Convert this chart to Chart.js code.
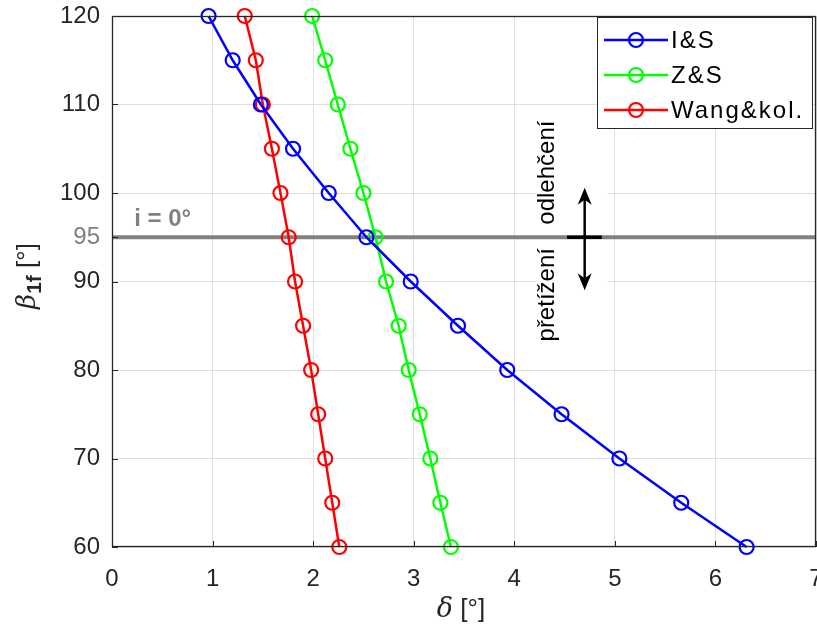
<!DOCTYPE html>
<html><head><meta charset="utf-8">
<script src="https://cdn.jsdelivr.net/npm/chart.js@4/dist/chart.umd.min.js"></script>
<style>html,body{margin:0;padding:0;background:#fff}#wrap{width:817px;height:635px}</style>
</head><body><div id="wrap"><canvas id="c" width="817" height="635"></canvas></div>
<script>
// ---- data ----
const betaValues = [120, 115, 110, 105, 100, 95, 90, 85, 80, 75, 70, 65, 60];
const deltaIS   = [0.96, 1.20, 1.48, 1.80, 2.155, 2.53, 2.97, 3.44, 3.93, 4.47, 5.045, 5.66, 6.31];
const deltaZS   = [1.99, 2.12, 2.245, 2.37, 2.50, 2.62, 2.725, 2.85, 2.95, 3.06, 3.165, 3.265, 3.37];
const deltaWang = [1.32, 1.43, 1.50, 1.59, 1.675, 1.757, 1.82, 1.90, 1.98, 2.05, 2.12, 2.19, 2.26];
const seriesNames = ['I&S', 'Z&S', 'Wang&kol.'];
const xTicks = [0, 1, 2, 3, 4, 5, 6, 7];
const yTicks = [60, 70, 80, 90, 95, 100, 110, 120];
const refBeta = 95;
const refLabel = 'i = 0°';
const upLabel = 'odlehčení';
const downLabel = 'přetížení';

// ---- styling / layout ----
const colors = ['#0000ff', '#00ff00', '#ff0000'];
const axisColor = '#262626';
const refColor = '#808080';
const FONT = '"Liberation Sans", Arial, sans-serif';

function pts(xs) { return xs.map((v, i) => ({x: v, y: betaValues[i]})); }
const seriesData = [deltaIS, deltaZS, deltaWang];

const datasets = seriesData.map((d, i) => ({
  label: seriesNames[i],
  data: pts(d),
  showLine: true,
  borderColor: colors[i],
  backgroundColor: 'rgba(0,0,0,0)',
  borderWidth: 2.5,
  pointRadius: 7,
  pointBorderWidth: 2.2,
  pointBorderColor: colors[i],
  pointBackgroundColor: 'rgba(0,0,0,0)',
  tension: 0,
  clip: false
}));

function line(ctx, x1, y1, x2, y2) { ctx.beginPath(); ctx.moveTo(x1, y1); ctx.lineTo(x2, y2); ctx.stroke(); }

const overlay = {
  id: 'overlay',
  beforeDatasetsDraw(chart) {
    const {ctx, chartArea: a, scales: {x, y}} = chart;
    ctx.save();
    const bx1 = x.getPixelForValue(4.22), bx2 = x.getPixelForValue(4.93);
    ctx.fillStyle = '#fff';
    ctx.fillRect(bx1, y.getPixelForValue(102.3) - 56, bx2 - bx1, 112);
    ctx.fillRect(bx1, y.getPixelForValue(88.5) - 48, bx2 - bx1, 96);
    const py = y.getPixelForValue(refBeta);
    ctx.strokeStyle = refColor; ctx.lineWidth = 4;
    line(ctx, a.left, py, a.right, py);
    ctx.restore();
  },
  afterDatasetsDraw(chart) {
    const {ctx, chartArea: a, scales: {x, y}} = chart;
    ctx.save();
    ctx.strokeStyle = axisColor; ctx.lineWidth = 1.3;
    ctx.strokeRect(a.left + 0.5, a.top + 0.5, a.right - a.left - 1, a.bottom - a.top - 1);
    ctx.lineWidth = 1;
    xTicks.forEach(v => { const px = Math.round(x.getPixelForValue(v)) + 0.5; line(ctx, px, a.bottom, px, a.bottom - 6); });
    yTicks.forEach(v => { const py = Math.round(y.getPixelForValue(v)) + 0.5; line(ctx, a.left, py, a.left + 6, py); });

    ctx.fillStyle = refColor;
    ctx.font = 'bold 24px ' + FONT;
    ctx.textAlign = 'left'; ctx.textBaseline = 'middle';
    ctx.fillText(refLabel, x.getPixelForValue(0.22), y.getPixelForValue(97.05));

    ctx.fillStyle = '#000';
    ctx.font = '24px ' + FONT;
    [[upLabel, 102.3], [downLabel, 88.5]].forEach(([t, yv]) => {
      ctx.save();
      ctx.translate(x.getPixelForValue(4.33), y.getPixelForValue(yv));
      ctx.rotate(-Math.PI / 2);
      ctx.textAlign = 'center'; ctx.textBaseline = 'middle';
      ctx.fillText(t, 0, 0);
      ctx.restore();
    });

    const ax = x.getPixelForValue(4.70);
    const ay1 = y.getPixelForValue(100.6), ay2 = y.getPixelForValue(89.0);
    const py = y.getPixelForValue(refBeta);
    ctx.strokeStyle = '#000'; ctx.lineWidth = 3.5;
    line(ctx, x.getPixelForValue(4.525), py, x.getPixelForValue(4.87), py);
    ctx.lineWidth = 2.5;
    line(ctx, ax, ay1 + 6, ax, ay2 - 6);
    ctx.fillStyle = '#000';
    ctx.beginPath(); ctx.moveTo(ax, ay1); ctx.lineTo(ax - 7, ay1 + 17); ctx.lineTo(ax, ay1 + 12); ctx.lineTo(ax + 7, ay1 + 17); ctx.closePath(); ctx.fill();
    ctx.beginPath(); ctx.moveTo(ax, ay2); ctx.lineTo(ax - 7, ay2 - 17); ctx.lineTo(ax, ay2 - 12); ctx.lineTo(ax + 7, ay2 - 17); ctx.closePath(); ctx.fill();
    ctx.restore();
  },
  afterDraw(chart) {
    const {ctx, chartArea: a} = chart;
    ctx.save();
    const lx = 597, ly = 17, lw = 215, lh = 111;
    ctx.fillStyle = '#fff'; ctx.fillRect(lx, ly, lw, lh);
    ctx.strokeStyle = axisColor; ctx.lineWidth = 1;
    ctx.strokeRect(lx + 0.5, ly + 0.5, lw, lh);
    chart.data.datasets.forEach((ds, i) => {
      const cy = ly + 23 + i * 35;
      ctx.strokeStyle = ds.borderColor; ctx.lineWidth = 2.5;
      line(ctx, lx + 7, cy, lx + 71, cy);
      ctx.lineWidth = 2.2;
      ctx.beginPath(); ctx.arc(lx + 39, cy, 7, 0, Math.PI * 2); ctx.stroke();
      ctx.fillStyle = '#000';
      ctx.font = '24px ' + FONT;
      ctx.letterSpacing = '2px';
      ctx.textAlign = 'left'; ctx.textBaseline = 'middle';
      ctx.fillText(ds.label, lx + 74, cy + 1);
      ctx.letterSpacing = '0px';
    });

    ctx.fillStyle = axisColor; ctx.textBaseline = 'alphabetic'; ctx.textAlign = 'left';
    const f1 = 'italic 27px "DejaVu Serif", serif', f2 = '26px ' + FONT;
    ctx.font = f1; const w1 = ctx.measureText('δ').width;
    ctx.font = f2; const w2 = ctx.measureText(' [°]').width;
    const cx = (a.left + a.right) / 2 - 3;
    let sx = cx - (w1 + w2) / 2;
    ctx.font = f1; ctx.fillText('δ', sx, 617);
    ctx.font = f2; ctx.fillText(' [°]', sx + w1, 617);

    ctx.save();
    ctx.translate(35, 276);
    ctx.rotate(-Math.PI / 2);
    const g1 = 'italic 26px "DejaVu Serif", serif', g2 = 'bold 21px ' + FONT, g3 = '26px ' + FONT;
    ctx.font = g1; const v1 = ctx.measureText('β').width;
    ctx.font = g2; const v2 = ctx.measureText('1f').width;
    ctx.font = g3; const v3 = ctx.measureText(' [°]').width;
    let s = -(v1 + v2 + v3) / 2;
    ctx.font = g1; ctx.fillText('β', s, 0);
    ctx.font = g2; ctx.fillText('1f', s + v1, 6);
    ctx.font = g3; ctx.fillText(' [°]', s + v1 + v2, 0);
    ctx.restore();
    ctx.restore();
  }
};

new Chart(document.getElementById('c'), {
  type: 'scatter',
  data: {datasets},
  options: {
    responsive: false,
    animation: false,
    devicePixelRatio: 1,
    layout: {autoPadding: false, padding: {left: 0, right: 1, top: 16, bottom: 0}},
    plugins: {legend: {display: false}, tooltip: {enabled: false}},
    scales: {
      x: {
        type: 'linear', min: 0, max: 7,
        afterBuildTicks: s => { s.ticks = xTicks.map(v => ({value: v})); },
        afterFit: s => { s.height = 88; s.paddingLeft = 0; s.paddingRight = 0; },
        ticks: {font: {size: 24, family: FONT}, color: axisColor, padding: 18},
        grid: {color: '#dfdfdf', lineWidth: 1, drawTicks: false},
        border: {display: false}
      },
      y: {
        type: 'linear', min: 60, max: 120,
        afterBuildTicks: s => { s.ticks = yTicks.map(v => ({value: v})); },
        afterFit: s => { s.width = 112; s.paddingTop = 0; s.paddingBottom = 0; },
        ticks: {font: {size: 24, family: FONT}, color: c => c.tick && c.tick.value === refBeta ? refColor : axisColor, padding: 12},
        grid: {color: '#dfdfdf', lineWidth: 1, drawTicks: false},
        border: {display: false}
      }
    }
  },
  plugins: [overlay]
});
</script>
</body></html>
